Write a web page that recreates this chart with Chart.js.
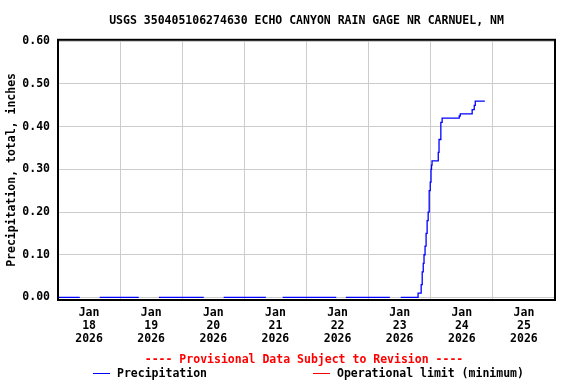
<!DOCTYPE html>
<html>
<head>
<meta charset="utf-8">
<script src="https://cdn.jsdelivr.net/npm/chart.js@4"></script>
<style>
  html, body { margin: 0; padding: 0; background: #fff; }
  #wrap { position: relative; width: 576px; height: 384px; font-family: "DejaVu Sans Mono", monospace; font-weight: bold; font-size: 11.5px; }
  #chart { position: absolute; left: 0; top: 0; }
  .txt { position: absolute; line-height: 14px; white-space: pre; }
  .key { position: absolute; height: 1px; width: 17px; }
</style>
</head>
<body>
<div id="wrap">
  <canvas id="chart" width="576" height="384"></canvas>
  <div class="txt" style="left:0; width:608px; text-align:center; top:352px; color:#ff0000;">---- Provisional Data Subject to Revision ----</div>
  <div class="key" style="left:93px; top:373px; background:#0000ff;"></div>
  <div class="txt" style="left:117px; top:366px; color:#000;">Precipitation</div>
  <div class="key" style="left:313px; top:373px; background:#ff0000;"></div>
  <div class="txt" style="left:337px; top:366px; color:#000;">Operational limit (minimum)</div>
</div>
<script>
// hours since Jan 18 2026 00:00, null = no data
const hours = [
  0, 8.4, 8.5,
  16.1, 31.2, 31.3,
  39.0, 56.3, 56.4,
  64.0, 80.3, 80.4,
  86.8, 107.5, 107.6,
  111.2, 128.2, 128.3,
  132.4, 139.1, 139.1, 140.3, 140.7, 141.1, 141.4, 141.8, 142.2, 142.6,
  143.0, 143.4, 143.8, 144.1, 144.3, 144.5, 146.9, 147.2, 147.9, 148.4,
  155.0, 155.4, 160.0, 160.8, 161.2, 164.9
];
const precip = [
  0, 0, null,
  0, 0, null,
  0, 0, null,
  0, 0, null,
  0, 0, null,
  0, 0, null,
  0, 0, 0.01, 0.03, 0.06, 0.08, 0.10, 0.12, 0.15, 0.18,
  0.20, 0.25, 0.27, 0.30, 0.31, 0.32, 0.34, 0.37, 0.41, 0.42,
  0.425, 0.43, 0.44, 0.45, 0.46, 0.46
];
const opLimit = [];

const dayLabels = ['18', '19', '20', '21', '22', '23', '24', '25'];
const yTicks = [0, 0.1, 0.2, 0.3, 0.4, 0.5, 0.6];

const FONT = { family: '"DejaVu Sans Mono", monospace', size: 11.5, weight: 'bold', lineHeight: 1.13 };

const frame = {
  id: 'frame',
  afterDraw(chart) {
    const a = chart.chartArea, c = chart.ctx;
    c.save();
    c.strokeStyle = '#000';
    c.lineWidth = 2;
    c.strokeRect(a.left, a.top, a.right - a.left, a.bottom - a.top);
    c.restore();
  }
};

const precipChart = new Chart(document.getElementById('chart'), {
  type: 'line',
  data: {
    datasets: [{
      label: 'Precipitation',
      data: hours.map((h, i) => ({ x: h, y: precip[i] })),
      borderColor: '#0000ff',
      borderWidth: 1.3,
      pointRadius: 0,
      stepped: true,
      spanGaps: false,
      fill: false
    }, {
      label: 'Operational limit (minimum)',
      data: opLimit,
      borderColor: '#ff0000',
      borderWidth: 1,
      pointRadius: 0
    }]
  },
  options: {
    responsive: false,
    animation: false,
    layout: { padding: { top: 0, right: 21, bottom: 34, left: 0 } },
    scales: {
      x: {
        type: 'linear',
        min: 0,
        max: 192,
        afterBuildTicks: s => { s.ticks = []; for (let h = 0; h <= 192; h += 12) s.ticks.push({ value: h }); },
        afterFit: s => { s.height = 50; },
        grid: {
          color: c => (c.tick && c.tick.value % 24 === 0) ? '#cccccc' : 'rgba(0,0,0,0)',
          lineWidth: 1,
          drawTicks: false
        },
        border: { display: false },
        ticks: {
          autoSkip: false,
          maxRotation: 0,
          padding: 7,
          color: '#000',
          font: FONT,
          callback: v => (v % 24 === 12) ? ['Jan', dayLabels[(v - 12) / 24], '2026'] : ''
        }
      },
      y: {
        min: -0.006,
        max: 0.6035,
        afterBuildTicks: s => { s.ticks = yTicks.map(v => ({ value: v })); },
        afterFit: s => { s.width = 58; },
        grid: { color: '#cccccc', lineWidth: 1, drawTicks: false },
        border: { display: false },
        ticks: { padding: 8, color: '#000', font: FONT, callback: v => v.toFixed(2) },
        title: {
          display: true,
          text: 'Precipitation, total, inches',
          color: '#000',
          font: FONT,
          padding: { top: 6, bottom: 0 }
        }
      }
    },
    plugins: {
      legend: { display: false },
      tooltip: { enabled: false },
      title: {
        display: true,
        fullSize: false,
        text: 'USGS 350405106274630 ECHO CANYON RAIN GAGE NR CARNUEL, NM',
        color: '#000',
        font: { family: '"DejaVu Sans Mono", monospace', size: 11.5, weight: 'bold', lineHeight: 1.2 },
        padding: { top: 14, bottom: 12 }
      }
    }
  },
  plugins: [frame]
});
</script>
</body>
</html>
